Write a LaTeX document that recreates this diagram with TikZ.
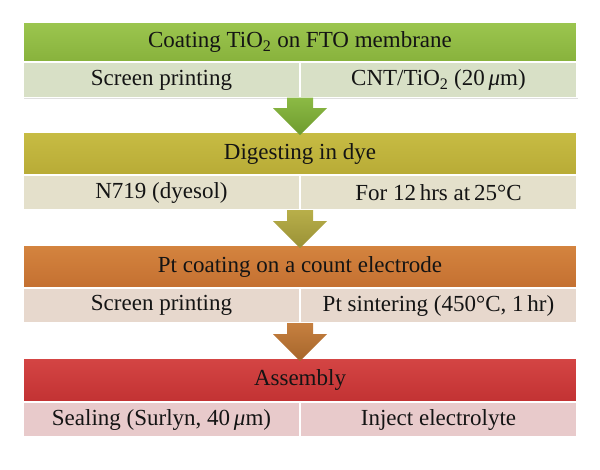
\documentclass[tikz,border=0pt]{standalone}
\usepackage{fontspec}
\setmainfont{Liberation Serif}
\usetikzlibrary{calc,shadows}
\definecolor{gTop}{HTML}{9CC64F}
\definecolor{gBot}{HTML}{88B23C}
\definecolor{gSub}{HTML}{D8E0C6}
\definecolor{oTop}{HTML}{C7BC44}
\definecolor{oBot}{HTML}{B8AB36}
\definecolor{oSub}{HTML}{E4E0CB}
\definecolor{rTop}{HTML}{D4843F}
\definecolor{rBot}{HTML}{C47031}
\definecolor{rSub}{HTML}{E7D8CD}
\definecolor{dTop}{HTML}{D44544}
\definecolor{dBot}{HTML}{C23233}
\definecolor{dSub}{HTML}{E8CACB}
\definecolor{ga1}{HTML}{8CBA45}
\definecolor{ga2}{HTML}{6E9B2E}
\definecolor{oa1}{HTML}{B8AF4A}
\definecolor{oa2}{HTML}{9A9136}
\definecolor{ra1}{HTML}{C68040}
\definecolor{ra2}{HTML}{A6662B}
\definecolor{txt}{HTML}{141414}
\tikzset{
  cell/.style={draw=white, line width=1.2pt, inner sep=0pt, outer sep=0pt,
    text=txt, font=\fontsize{23}{27}\selectfont,
    drop shadow={shadow xshift=1.2pt, shadow yshift=-1.2pt, opacity=0.25}},
  head/.style={cell, minimum width=554pt},
  sub/.style={cell, minimum width=277pt, minimum height=35pt},
}
\begin{document}
\begin{tikzpicture}[x=1pt,y=-1pt]
\useasboundingbox (0,0) rectangle (600,469);
% Block 1
\node[head, minimum height=40pt, top color=gTop, bottom color=gBot] (h1) at (300,42) {Coating TiO\textsubscript{2} on FTO membrane};
\node[sub, fill=gSub] (s1a) at (161.5,80) {Screen printing};
\node[sub, fill=gSub] (s1b) at (438.5,80) {CNT/TiO\textsubscript{2} (20\,\textit{μ}m)};
% Block 2
\node[head, minimum height=43pt, top color=oTop, bottom color=oBot] (h2) at (300,153.5) {Digesting in dye};
\node[sub, fill=oSub] (s2a) at (161.5,192.5) {N719 (dyesol)};
\node[sub, fill=oSub] (s2b) at (438.5,192.5) {For 12\,hrs at\,25°C};
% Block 3
\node[head, minimum height=43pt, top color=rTop, bottom color=rBot] (h3) at (300,266.5) {Pt coating on a count electrode};
\node[sub, fill=rSub] (s3a) at (161.5,305.5) {Screen printing};
\node[sub, fill=rSub] (s3b) at (438.5,305.5) {Pt sintering (450°C, 1\,hr)};
% Block 4
\node[head, minimum height=44pt, top color=dTop, bottom color=dBot] (h4) at (300,380) {Assembly};
\node[sub, fill=dSub] (s4a) at (161.5,419.5) {Sealing (Surlyn, 40\,\textit{μ}m)};
\node[sub, fill=dSub] (s4b) at (438.5,419.5) {Inject electrolyte};
% Arrows
\foreach \s/\h/\ca/\cb in {s1a/h2/ga1/ga2, s2a/h3/oa1/oa2, s3a/h4/ra1/ra2}{
  \coordinate (top) at ($(\s.south east)$);
  \coordinate (tip) at ($(\h.north)+(0,3)$);
  \shade[top color=\ca, bottom color=\cb]
    ($(tip |- top)+(-13,0)$) -- ($(tip |- top)+(13,0)$) --
    ($(tip)+(13,-27)$) -- ($(tip)+(27,-27)$) -- (tip) --
    ($(tip)+(-27,-27)$) -- ($(tip)+(-13,-27)$) -- cycle;
}
\end{tikzpicture}
\end{document}
